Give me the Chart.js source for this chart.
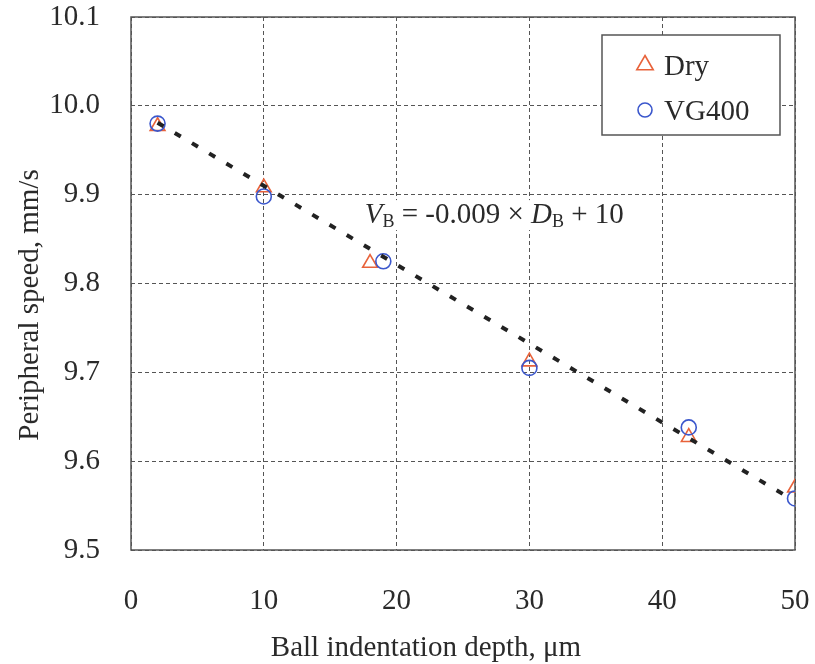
<!DOCTYPE html>
<html>
<head>
<meta charset="utf-8">
<script src="https://cdn.jsdelivr.net/npm/chart.js@4/dist/chart.umd.min.js"></script>
<style>
  html, body { margin: 0; padding: 0; background: #fff; }
</style>
</head>
<body>
<canvas id="speed-chart" width="815" height="664"></canvas>
<script>
// values
const dryDepth = [2, 10, 18, 30, 42, 50];
const drySpeed = [9.977, 9.908, 9.823, 9.712, 9.627, 9.570];
const vgDepth = [2, 10, 19, 30, 42, 50];
const vgSpeed = [9.980, 9.898, 9.825, 9.705, 9.638, 9.558];
const fitDepth = [2, 49.2];
const fitSpeed = [9.981, 9.562];
const xTicks = [0, 10, 20, 30, 40, 50];
const yTicks = [9.5, 9.6, 9.7, 9.8, 9.9, 10.0, 10.1];

const serif = "'Liberation Serif', 'Times New Roman', serif";
const textColor = "#2a2a2a";

function toPoints(xs, ys) {
  return xs.map((x, i) => ({ x: x, y: ys[i] }));
}

// box around the plot area
const framePlugin = {
  id: "frame",
  beforeDatasetsDraw(chart) {
    const a = chart.chartArea;
    const ctx = chart.ctx;
    ctx.save();
    ctx.strokeStyle = "#555";
    ctx.lineWidth = 1.5;
    ctx.strokeRect(a.left, a.top, a.right - a.left, a.bottom - a.top);
    ctx.restore();
  },
};

// axis titles, equation and the boxed legend
const textPlugin = {
  id: "texts",
  afterDatasetsDraw(chart) {
    const ctx = chart.ctx;
    const a = chart.chartArea;
    const xs = chart.scales.x;
    const ys = chart.scales.y;
    ctx.save();
    ctx.fillStyle = textColor;
    ctx.textBaseline = "alphabetic";

    // x title
    ctx.font = "29px " + serif;
    ctx.textAlign = "center";
    ctx.fillText("Ball indentation depth, \u03bcm", 426, 656);

    // y title
    ctx.save();
    ctx.translate(38, 305);
    ctx.rotate(-Math.PI / 2);
    ctx.fillText("Peripheral speed, mm/s", 0, 0);
    ctx.restore();

    // fit equation
    const runs = [
      { t: "V", f: "italic 29px " + serif, dy: 0 },
      { t: "B", f: "18px " + serif, dy: 4 },
      { t: " = -0.009 \u00d7 ", f: "29px " + serif, dy: 0 },
      { t: "D", f: "italic 29px " + serif, dy: 0 },
      { t: "B", f: "18px " + serif, dy: 4 },
      { t: " + 10", f: "29px " + serif, dy: 0 },
    ];
    let ex = xs.getPixelForValue(17.6);
    const ey = ys.getPixelForValue(9.868);
    ctx.textAlign = "left";
    let total = 0;
    runs.forEach((r) => {
      ctx.font = r.f;
      total += ctx.measureText(r.t).width;
    });
    ctx.fillStyle = "#fff";
    ctx.fillRect(ex - 3, ey - 23, total + 6, 30);
    ctx.fillStyle = textColor;
    runs.forEach((r) => {
      ctx.font = r.f;
      ctx.fillText(r.t, ex, ey + r.dy);
      ex += ctx.measureText(r.t).width;
    });

    // legend
    const boxW = 178, boxH = 100;
    const bx = a.right - 15 - boxW;
    const by = a.top + 18;
    ctx.fillStyle = "#fff";
    ctx.fillRect(bx, by, boxW, boxH);
    ctx.strokeStyle = "#555";
    ctx.lineWidth = 1.5;
    ctx.strokeRect(bx, by, boxW, boxH);
    const items = chart.data.datasets.slice(0, 2);
    items.forEach((ds, i) => {
      const cy = by + 30 + i * 45;
      ctx.strokeStyle = ds.borderColor;
      ctx.fillStyle = "rgba(0,0,0,0)";
      ctx.lineWidth = ds.borderWidth;
      Chart.helpers.drawPoint(ctx, {
        pointStyle: ds.pointStyle,
        radius: ds.pointStyle === "triangle" ? 9.5 : 7,
        borderWidth: ds.borderWidth,
        rotation: 0,
      }, bx + 43, cy);
      ctx.fillStyle = textColor;
      ctx.font = "29px " + serif;
      ctx.fillText(ds.label, bx + 62, cy + 10);
    });
    ctx.restore();
  },
};

const ctx = document.getElementById("speed-chart");

new Chart(ctx, {
  type: "scatter",
  data: {
    datasets: [
      {
        label: "Dry",
        data: toPoints(dryDepth, drySpeed),
        pointStyle: "triangle",
        pointRadius: 8.5,
        borderColor: "#E8623A",
        backgroundColor: "rgba(0,0,0,0)",
        borderWidth: 1.6,
        order: 3,
      },
      {
        label: "VG400",
        data: toPoints(vgDepth, vgSpeed),
        pointStyle: "circle",
        pointRadius: 7.5,
        borderColor: "#3B57CC",
        backgroundColor: "rgba(0,0,0,0)",
        borderWidth: 1.6,
        order: 2,
      },
      {
        label: "fit",
        data: toPoints(fitDepth, fitSpeed),
        showLine: true,
        pointRadius: 0,
        borderColor: "#222",
        borderWidth: 4,
        borderDash: [7, 13],
        order: 1,
      },
    ],
  },
  options: {
    responsive: false,
    animation: false,
    layout: { padding: { left: 0, right: 20, top: 17, bottom: 0 } },
    plugins: {
      legend: { display: false },
      tooltip: { enabled: false },
    },
    scales: {
      x: {
        type: "linear",
        min: 0,
        max: 50,
        afterBuildTicks: (axis) => {
          axis.ticks = xTicks.map((v) => ({ value: v }));
        },
        afterFit: (axis) => {
          axis.height = 114;
          axis.paddingLeft = 0;
          axis.paddingRight = 0;
        },
        grid: { color: "#555", lineWidth: 1, drawTicks: false },
        border: { display: false, dash: [4, 3] },
        ticks: {
          font: { family: serif, size: 29 },
          color: textColor,
          padding: 34,
          callback: (v) => String(v),
        },
      },
      y: {
        type: "linear",
        min: 9.5,
        max: 10.1,
        afterBuildTicks: (axis) => {
          axis.ticks = yTicks.map((v) => ({ value: v }));
        },
        afterFit: (axis) => {
          axis.width = 131;
          axis.paddingTop = 0;
          axis.paddingBottom = 0;
        },
        grid: { color: "#555", lineWidth: 1, drawTicks: false },
        border: { display: false, dash: [4, 3] },
        ticks: {
          font: { family: serif, size: 29 },
          color: textColor,
          padding: 31,
          callback: (v) => Number(v).toFixed(1),
        },
      },
    },
  },
  plugins: [framePlugin, textPlugin],
});
</script>
</body>
</html>
